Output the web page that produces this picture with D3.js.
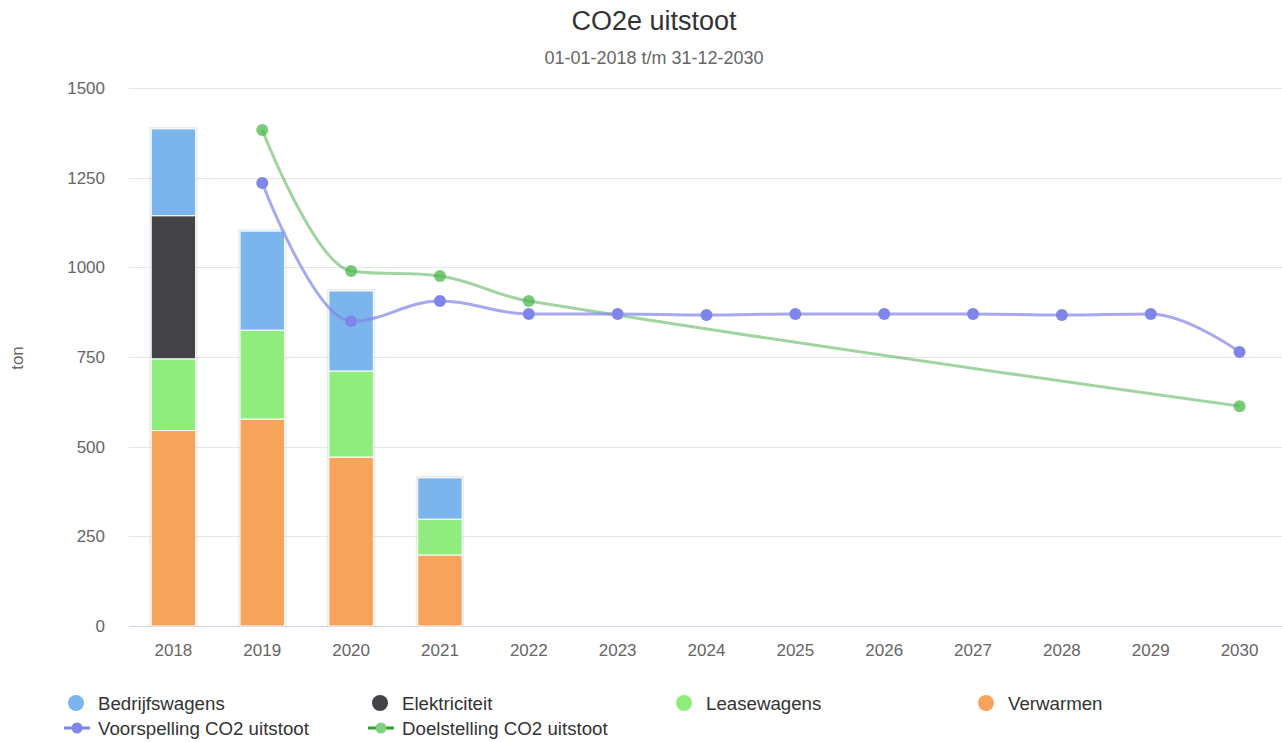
<!DOCTYPE html>
<html>
<head>
<meta charset="utf-8">
<script src="https://cdn.jsdelivr.net/npm/d3@7"></script>
<style>
body{margin:0;background:#fff;font-family:"Liberation Sans",Arial,sans-serif;}
</style>
</head>
<body>
<svg id="chart" width="1282" height="742"></svg>
<script>
var years = ["2018","2019","2020","2021","2022","2023","2024","2025","2026","2027","2028","2029","2030"];
var stackNames = ["Bedrijfswagens","Elektriciteit","Leasewagens","Verwarmen"];
var stackColors = ["#7cb5ec","#434348","#90ed7d","#f7a35c"];
// values per year (only 2018-2021 have bars)
var bedrijfswagens = [242,276,223,115];
var elektriciteit = [399,0,0,0];
var leasewagens = [200,248,240,100];
var verwarmen = [545,577,471,198];
var voorspellingYears = ["2019","2020","2021","2022","2023","2024","2025","2026","2027","2028","2029","2030"];
var voorspelling = [1235,850,906,870,870,867,870,870,870,867,870,764];
var doelstellingYears = ["2019","2020","2021","2022","2030"];
var doelstelling = [1383,990,976,906,613];
var yTicks = [0,250,500,750,1000,1250,1500];

var svg = d3.select("#chart");
var plotLeft = 129, plotRight = 1284, plotTop = 88, plotBottom = 626;

var x = d3.scaleBand().domain(years).range([plotLeft,plotRight]).padding(0);
var y = d3.scaleLinear().domain([0,1500]).range([plotBottom,plotTop]);

// title
svg.append("text").attr("x",654).attr("y",30).attr("text-anchor","middle")
	.style("font-size","27px").style("fill","#333").text("CO2e uitstoot");
svg.append("text").attr("x",654).attr("y",64).attr("text-anchor","middle")
	.style("font-size","18px").style("fill","#666").text("01-01-2018 t/m 31-12-2030");

// grid
svg.append("g").selectAll("line").data(yTicks.slice(1)).enter().append("line")
	.attr("x1",plotLeft).attr("x2",1282).attr("y1",d=>Math.round(y(d))+0.5).attr("y2",d=>Math.round(y(d))+0.5)
	.attr("stroke","#e6e6e6");
svg.append("g").selectAll("text").data(yTicks).enter().append("text")
	.attr("x",105).attr("y",d=>y(d)+6).attr("text-anchor","end")
	.style("font-size","17px").style("fill","#666").text(d=>d);
svg.append("text").attr("transform","translate(23,358) rotate(-90)").attr("text-anchor","middle")
	.style("font-size","17px").style("fill","#666").text("ton");

// x axis
svg.append("line").attr("x1",plotLeft).attr("x2",1282).attr("y1",plotBottom+0.5).attr("y2",plotBottom+0.5).attr("stroke","#ccd6eb");
svg.append("g").selectAll("text").data(years).enter().append("text")
	.attr("x",d=>x(d)+x.bandwidth()/2).attr("y",656).attr("text-anchor","middle")
	.style("font-size","17px").style("fill","#666").text(d=>d);

// stacked bars
var rows = [];
for(var i=0;i<bedrijfswagens.length;i++){
	rows.push({year:years[i],Bedrijfswagens:bedrijfswagens[i],Elektriciteit:elektriciteit[i],Leasewagens:leasewagens[i],Verwarmen:verwarmen[i]});
}
var series = d3.stack().keys(stackNames.slice().reverse())(rows);
var bw = x.bandwidth()*0.5;

// faint shadow around each full column
svg.append("g").selectAll("rect").data(rows).enter().append("rect")
	.attr("x",d=>x(d.year)+x.bandwidth()/2-bw/2-1)
	.attr("width",bw+2)
	.attr("y",d=>y(d.Bedrijfswagens+d.Elektriciteit+d.Leasewagens+d.Verwarmen)-1)
	.attr("height",d=>plotBottom-y(d.Bedrijfswagens+d.Elektriciteit+d.Leasewagens+d.Verwarmen)+1)
	.attr("fill","none").attr("stroke","#000").attr("stroke-opacity",0.08).attr("stroke-width",2);

svg.append("g").selectAll("g").data(series).enter().append("g")
	.attr("fill",d=>stackColors[stackNames.indexOf(d.key)])
	.selectAll("rect").data(d=>d.filter(p=>p[1]>p[0])).enter().append("rect")
	.attr("x",d=>x(d.data.year)+x.bandwidth()/2-bw/2)
	.attr("width",bw)
	.attr("y",d=>y(d[1]))
	.attr("height",d=>y(d[0])-y(d[1]))
	.attr("stroke","#fff").attr("stroke-width",1);

// highcharts-like spline
function splinePath(pts){
	var sm=1.5, den=2.5, c=[];
	for(var i=0;i<pts.length;i++){
		var p=pts[i], cp={lx:p[0],ly:p[1],rx:p[0],ry:p[1]};
		if(i>0 && i<pts.length-1){
			var a=pts[i-1], b=pts[i+1];
			var lx=(sm*p[0]+a[0])/den, ly=(sm*p[1]+a[1])/den;
			var rx=(sm*p[0]+b[0])/den, ry=(sm*p[1]+b[1])/den;
			var corr=((ry-ly)*(rx-p[0]))/(rx-lx)+p[1]-ry;
			ly+=corr; ry+=corr;
			if(ly>a[1]&&ly>p[1]){ly=Math.max(a[1],p[1]);ry=2*p[1]-ly;}
			else if(ly<a[1]&&ly<p[1]){ly=Math.min(a[1],p[1]);ry=2*p[1]-ly;}
			if(ry>b[1]&&ry>p[1]){ry=Math.max(b[1],p[1]);ly=2*p[1]-ry;}
			else if(ry<b[1]&&ry<p[1]){ry=Math.min(b[1],p[1]);ly=2*p[1]-ry;}
			cp={lx:lx,ly:ly,rx:rx,ry:ry};
		}
		c.push(cp);
	}
	var path=d3.path();
	path.moveTo(pts[0][0],pts[0][1]);
	for(var j=1;j<pts.length;j++){
		path.bezierCurveTo(c[j-1].rx,c[j-1].ry,c[j].lx,c[j].ly,pts[j][0],pts[j][1]);
	}
	return path.toString();
}

function drawLine(yrs,vals,lineColor,lineOpacity,markColor,markOpacity){
	var pts=yrs.map((d,i)=>[x(d)+x.bandwidth()/2,y(vals[i])]);
	svg.append("path").attr("d",splinePath(pts)).attr("fill","none")
		.attr("stroke",lineColor).attr("stroke-opacity",lineOpacity).attr("stroke-width",3);
	svg.append("g").selectAll("circle").data(pts).enter().append("circle")
		.attr("cx",d=>d[0]).attr("cy",d=>d[1]).attr("r",6)
		.attr("fill",markColor).attr("fill-opacity",markOpacity);
}
drawLine(doelstellingYears,doelstelling,"#2ca02c",0.45,"#4cb84c",0.75);
drawLine(voorspellingYears,voorspelling,"#8085e9",0.7,"#8085e9",1);

// legend
var lg = svg.append("g").style("font-size","18.7px").style("fill","#333");
var legX = [76,380,684,986];
stackNames.forEach(function(n,i){
	lg.append("circle").attr("cx",legX[i]).attr("cy",703).attr("r",8).attr("fill",stackColors[i]);
	lg.append("text").attr("x",legX[i]+22).attr("y",710).style("fill","#333").text(n);
});
var lines2 = [
	{name:"Voorspelling CO2 uitstoot",x:64,line:"#8085e9",mark:"#8085e9"},
	{name:"Doelstelling CO2 uitstoot",x:368,line:"#2ca02c",mark:"#7fd17f"}
];
lines2.forEach(function(l){
	lg.append("line").attr("x1",l.x).attr("x2",l.x+26).attr("y1",728).attr("y2",728)
		.attr("stroke",l.line).attr("stroke-width",3);
	lg.append("circle").attr("cx",l.x+13).attr("cy",728).attr("r",5.5).attr("fill",l.mark);
	lg.append("text").attr("x",l.x+34).attr("y",735).style("fill","#333").text(l.name);
});
</script>
</body>
</html>
